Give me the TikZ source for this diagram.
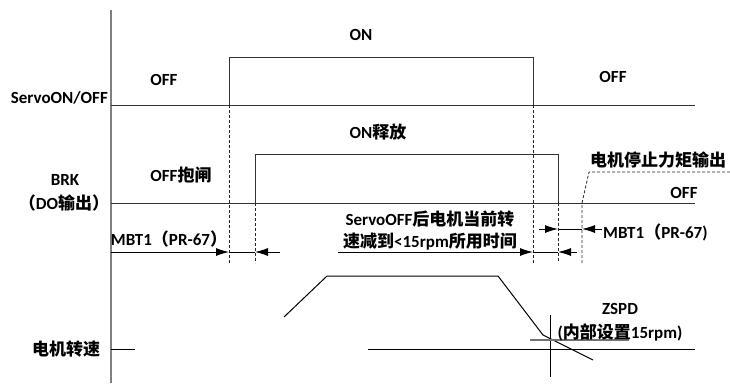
\documentclass[tikz,border=0pt]{standalone}
\usepackage{fontspec}
\setmainfont{Carlito}[BoldFont={Carlito Bold}]
\newfontfamily\cjkbold{Noto Sans CJK SC Bold}
\newcommand{\zhtxt}[1]{{\cjkbold #1}}
\usetikzlibrary{arrows.meta}
\tikzset{
  lbl/.style={font=\fontsize{17}{19}\selectfont\bfseries, inner sep=0pt},
  sig/.style={draw=black!80, line width=1pt},
  ax/.style={draw=black!50, line width=2pt},
  guide/.style={draw=black!85, line width=0.8pt, dash pattern=on 3pt off 2pt},
  dimarrow/.style={draw=black, line width=0.9pt, -{Latex[length=13pt,width=8pt]}},
  dimline/.style={draw=black, line width=0.9pt},
  thresh/.style={draw=black!55, line width=1.3pt},
}
\begin{document}
\begin{tikzpicture}[x=1pt,y=-1pt]
\useasboundingbox (0,0) rectangle (730,383);
% axis
\coordinate (axT) at (111,10);
\coordinate (axB) at (111,383);
\draw[ax] (axT) -- (axB);
% ServoON/OFF signal
\coordinate (s0) at (111,105);
\coordinate (s1) at (229,105);
\coordinate (s1t) at (229,57);
\coordinate (s2t) at (533,57);
\coordinate (s2) at (533,105);
\coordinate (s3) at (695,105);
\draw[sig] (s0) -- (s3);
\draw[sig] (s1) -- (s1t) -- (s2t) -- (s2);
% BRK signal
\coordinate (b0) at (111,203);
\coordinate (b1) at (255,203);
\coordinate (b1t) at (255,154);
\coordinate (b2t) at (558,154);
\coordinate (b2) at (558,203);
\coordinate (b3) at (695,203);
\draw[sig] (b0) -- (b3);
\draw[sig] (b1) -- (b1t) -- (b2t) -- (b2);
% guides
\coordinate (g1) at (229,263);
\coordinate (g2) at (255,263);
\coordinate (g3) at (533,263);
\coordinate (g4) at (558,263);
\coordinate (g5) at (582,263);
\coordinate (g5m) at (582,203);
\coordinate (g5k) at (589,172);
\coordinate (g5e) at (730,172);
\draw[guide] (s1) -- (g1);
\draw[guide] (b1) -- (g2);
\draw[guide] (s2) -- (g3);
\draw[guide] (b2) -- (g4);
\draw[guide] (g5) -- (g5m) -- (g5k) -- (g5e);
% left MBT1 dimension
\coordinate (m0) at (111,252);
\coordinate (m1) at (229,252);
\coordinate (m2) at (255,252);
\coordinate (m3) at (280,252);
\draw[dimarrow] (m0) -- (m1);
\draw[dimline] (m1) -- (m2);
\draw[dimarrow] (m3) -- (m2);
% right upper MBT1 dimension
\coordinate (r0) at (539,229);
\coordinate (r1) at (558,229);
\coordinate (r2) at (582,229);
\coordinate (r3) at (602,229);
\draw[dimarrow] (r0) -- (r1);
\draw[dimline] (r1) -- (r2);
\draw[dimarrow] (r3) -- (r2);
% decel time dimension
\coordinate (d0) at (338,252);
\coordinate (d1) at (533,252);
\coordinate (d2) at (558,252);
\coordinate (d3) at (577,252);
\draw[dimarrow] (d0) -- (d1);
\draw[dimline] (d1) -- (d2);
\draw[dimarrow] (d3) -- (d2);
% motor speed
\coordinate (v0) at (111,349);
\coordinate (v1) at (135,349);
\coordinate (v2) at (368,349);
\coordinate (v3) at (695,349);
\draw[sig,draw=black] (v0) -- (v1);
\draw[sig,draw=black] (v2) -- (v3);
\coordinate (c0) at (284,317);
\coordinate (c1) at (327,276);
\coordinate (c2) at (498,276);
\coordinate (c3) at (543,335);
\coordinate (c4) at (593,360);
\draw[sig,draw=black] (c0) -- (c1) -- (c2) -- (c3) -- (c4);
% ZSPD crosshair
\coordinate (x0) at (550,315);
\coordinate (x1) at (550,377);
\coordinate (h0) at (530,340);
\coordinate (h1) at (629,340);
\draw[sig,draw=black] (x0) -- (x1);
\draw[thresh] (h0) -- (h1);
% labels
\node[lbl] (tOn) at (361,35) {ON};
\node[lbl] (tOffL) at (164,80) {OFF};
\node[lbl, anchor=east] (tServo) at (108,98) {ServoON/OFF};
\node[lbl] (tOffR) at (613,77) {OFF};
\node[lbl] (tOnRel) at (378,132) {ON\zhtxt{释放}};
\node[lbl] (tOffBrk) at (181,175) {OFF\zhtxt{抱闸}};
\node[lbl] (tBrk) at (65,180) {BRK};
\node[lbl] (tDo) at (64,203) {\zhtxt{（}DO\zhtxt{输出）}};
\node[lbl] (tStop) at (658,160) {\zhtxt{电机停止力矩输出}};
\node[lbl] (tOffB) at (684,193) {OFF};
\node[lbl] (tMbtL) at (169,239) {MBT1\zhtxt{（}PR-67\zhtxt{）}};
\node[lbl, anchor=west] (tMbtR) at (603,232) {MBT1\zhtxt{（}PR-67)};
\node[lbl] (tDec1) at (430,219) {ServoOFF\zhtxt{后电机当前转}};
\node[lbl] (tDec2) at (430,242) {\zhtxt{速减到}<15rpm\zhtxt{所用时间}};
\node[lbl] (tZspd) at (620,309) {ZSPD};
\node[lbl] (tZspd2) at (620,332) {(\zhtxt{内部设置}15rpm)};
\node[lbl] (tSpeed) at (66,349) {\zhtxt{电机转速}};
\end{tikzpicture}
\end{document}
